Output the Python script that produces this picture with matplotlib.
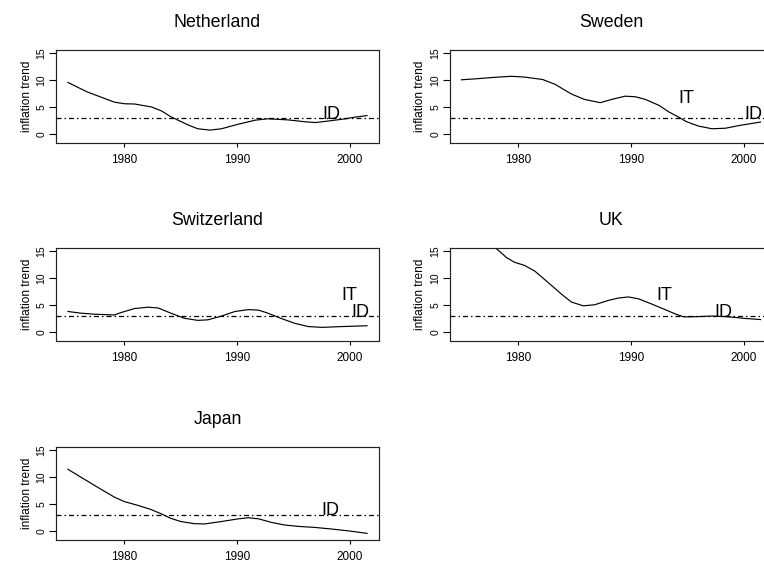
import matplotlib
matplotlib.use("Agg")
import matplotlib.pyplot as plt

plt.rcParams['font.family'] = ['Liberation Sans', 'DejaVu Sans']
plt.rcParams['lines.scale_dashes'] = False

# ---------------- data ----------------
nl_years = [1975.0, 1976.7, 1979.1, 1980.0, 1980.9, 1982.4, 1983.3, 1984.1, 1985.6, 1986.5,
            1987.6, 1988.6, 1990.0, 1991.6, 1992.7, 1994.5, 1996.0, 1996.9, 1998.1, 1999.6,
            2000.4, 2001.5]
nl_vals = [9.55, 7.8, 5.9, 5.6, 5.55, 5.0, 4.25, 3.2, 1.7, 0.95,
           0.7, 0.95, 1.75, 2.55, 2.8, 2.6, 2.25, 2.1, 2.4, 2.8,
           3.1, 3.4]

se_years = [1975.0, 1976.4, 1977.9, 1979.4, 1980.6, 1982.2, 1983.3, 1984.75, 1985.9, 1987.3,
            1988.3, 1989.5, 1990.4, 1991.3, 1992.5, 1993.4, 1994.3, 1994.9, 1996.0, 1997.2,
            1998.4, 1999.6, 2001.5]
se_vals = [10.05, 10.25, 10.5, 10.7, 10.55, 10.1, 9.2, 7.4, 6.4, 5.8,
           6.4, 7.0, 6.9, 6.4, 5.3, 4.05, 3.05, 2.3, 1.45, 0.95,
           1.05, 1.55, 2.2]

ch_years = [1975.0, 1976.1, 1977.3, 1979.1, 1979.7, 1980.9, 1982.1, 1983.0, 1984.1, 1985.3,
            1986.5, 1987.4, 1988.6, 1989.8, 1991.0, 1991.9, 1992.7, 1993.9, 1995.1, 1996.3,
            1997.5, 1999.3, 2001.5]
ch_vals = [3.75, 3.45, 3.25, 3.1, 3.55, 4.3, 4.55, 4.4, 3.45, 2.5,
           2.1, 2.2, 2.9, 3.75, 4.1, 4.0, 3.45, 2.45, 1.55, 0.95,
           0.8, 0.95, 1.1]

uk_years = [1975.0, 1976.5, 1977.9, 1978.5, 1979.0, 1979.7, 1980.6, 1981.5, 1982.2, 1983.0,
            1983.9, 1984.75, 1985.8, 1986.8, 1988.0, 1988.9, 1989.8, 1990.7, 1991.9, 1993.1,
            1994.0, 1994.7, 1996.0, 1997.2, 1998.7, 2000.2, 2001.5]
uk_vals = [19.0, 17.5, 15.75, 14.7, 13.75, 12.9, 12.3, 11.25, 10.0, 8.55,
           6.9, 5.5, 4.8, 5.0, 5.8, 6.25, 6.45, 6.1, 5.1, 4.05,
           3.25, 2.75, 2.8, 2.9, 2.75, 2.45, 2.25]

jp_years = [1975.0, 1976.1, 1977.6, 1979.1, 1980.0, 1981.2, 1982.4, 1983.3, 1984.1, 1985.0,
            1986.2, 1987.1, 1988.6, 1990.1, 1991.0, 1991.9, 1993.0, 1994.2, 1995.4, 1996.9,
            1998.4, 1999.9, 2001.5]
jp_vals = [11.4, 10.0, 8.1, 6.25, 5.4, 4.7, 3.9, 3.1, 2.3, 1.7,
           1.3, 1.25, 1.7, 2.2, 2.4, 2.2, 1.55, 1.05, 0.8, 0.6,
           0.3, -0.05, -0.5]

titles = ["Netherland", "Sweden", "Switzerland", "UK", "Japan"]
target_level = 3
x_ticks = [1980, 1990, 2000]
y_ticks = [0, 5, 10, 15]

# regime annotations: (label, year, level)
nl_notes = [("ID", 1998.3, 2.75)]
se_notes = [("IT", 1994.9, 5.8), ("ID", 2000.9, 2.7)]
ch_notes = [("IT", 1999.9, 5.8), ("ID", 2000.9, 2.7)]
uk_notes = [("IT", 1993.0, 5.8), ("ID", 1998.25, 2.7)]
jp_notes = [("ID", 1998.25, 2.85)]

# ---------------- layout ----------------
W, H = 764, 566
fig = plt.figure(figsize=(W / 100, H / 100), dpi=100)

BOX_W, BOX_H = 323, 93


def rect(left_px, top_px):
    return [left_px / W, 1 - (top_px + BOX_H) / H, BOX_W / W, BOX_H / H]


panels = [
    (titles[0], nl_years, nl_vals, nl_notes, 56, 49.7),
    (titles[1], se_years, se_vals, se_notes, 449.5, 49.7),
    (titles[2], ch_years, ch_vals, ch_notes, 56, 247.5),
    (titles[3], uk_years, uk_vals, uk_notes, 449.5, 247.5),
    (titles[4], jp_years, jp_vals, jp_notes, 56, 446.5),
]

px = 0.72  # points per pixel at 100 dpi

for name, yrs, vals, notes, lx, ty in panels:
    ax = fig.add_axes(rect(lx, ty))
    ax.plot(yrs, vals, color='black', lw=0.85)
    ax.axhline(target_level, color='black', lw=0.9,
               dashes=(5 * px, 3 * px, 1.5 * px, 3 * px))
    for lab, xx, yy in notes:
        ax.text(xx, yy, lab, ha='center', va='baseline', fontsize=13)
    ax.set_xlim(1973.94, 2002.56)
    ax.set_ylim(-1.64, 15.64)
    ax.set_xticks(x_ticks)
    ax.set_xticklabels([str(t) for t in x_ticks])
    ax.set_yticks(y_ticks)
    ax.set_yticklabels([str(t) for t in y_ticks])
    ax.tick_params(axis='x', length=4 * px, width=0.8, labelsize=8.5, pad=5.3)
    ax.tick_params(axis='y', length=7.5 * px, width=0.8, labelsize=7.5, pad=1.3,
                   labelrotation=90)
    for lbl in ax.get_yticklabels():
        lbl.set_va('center')
    for sp in ax.spines.values():
        sp.set_linewidth(0.85)
        sp.set_color('#222222')
    ax.text(-29.3 / BOX_W, 0.5, "inflation trend", transform=ax.transAxes,
            rotation=90, ha='center', va='center', fontsize=8.6)
    ax.annotate(name, xy=(0.5, 1), xycoords='axes fraction',
                xytext=(0, 22.6 * px), textcoords='offset points',
                ha='center', va='baseline', fontsize=12.8)

fig.savefig("out.png", dpi=100)
